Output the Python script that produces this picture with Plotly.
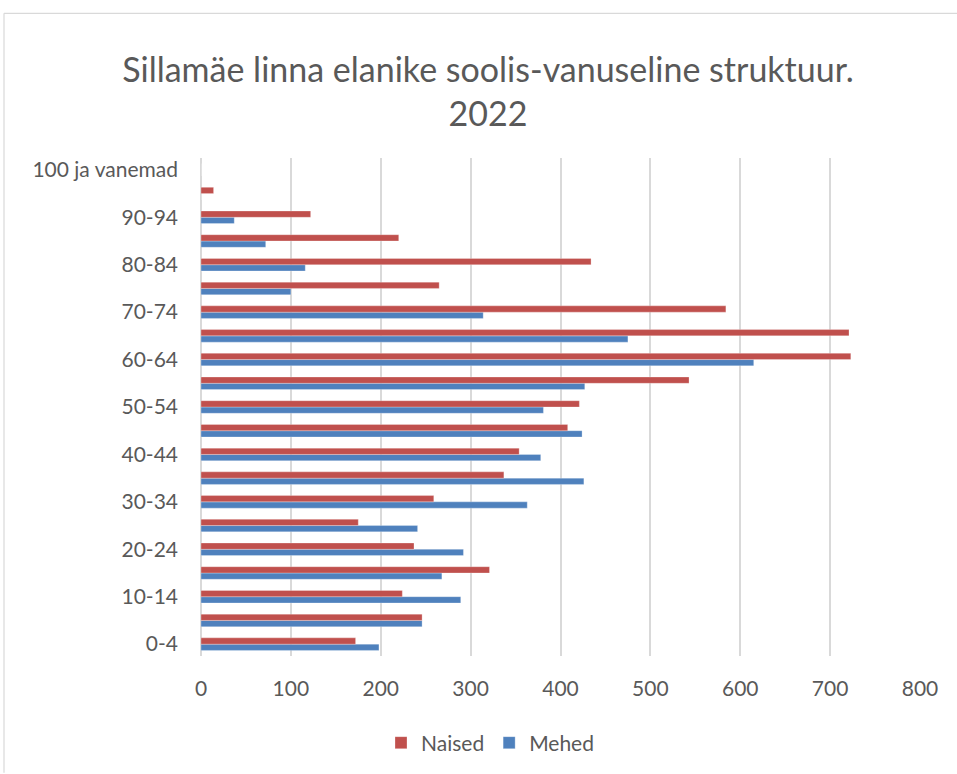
import plotly.graph_objects as go

categories = ["0-4", "5-9", "10-14", "15-19", "20-24", "25-29", "30-34", "35-39",
              "40-44", "45-49", "50-54", "55-59", "60-64", "65-69", "70-74",
              "75-79", "80-84", "85-89", "90-94", "95-99", "100 ja vanemad"]
naised = [172, 246, 224, 321, 237, 175, 259, 337, 354, 408, 421, 543, 723, 721,
          584, 265, 434, 220, 122, 14, 0]
mehed = [198, 246, 289, 268, 292, 241, 363, 426, 378, 424, 381, 427, 615, 475,
         314, 100, 116, 72, 37, 0, 0]
x_ticks = [0, 100, 200, 300, 400, 500, 600, 700, 800]
title_text = "Sillamäe linna elanike soolis-vanuseline struktuur.<br>2022"

RED = "#C0504D"
BLUE = "#4F81BD"
TXT = "#595959"
FONT = "Lato, 'Open Sans', sans-serif"

fig = go.Figure()
fig.add_trace(go.Bar(y=categories, x=mehed, name="Mehed", orientation="h",
                     marker=dict(color=BLUE, line=dict(color="rgba(255,255,255,0.35)", width=0.8))))
fig.add_trace(go.Bar(y=categories, x=naised, name="Naised", orientation="h",
                     marker=dict(color=RED, line=dict(color="rgba(255,255,255,0.35)", width=0.8))))

L, R, T, B = 201, 37, 158, 117
W, H = 957, 774
pw, ph = W - L - R, H - T - B

def px_x(p):
    return (p - L) / pw

def px_y(p):
    return (H - B - p) / ph

fig.update_layout(
    width=W, height=H,
    margin=dict(l=L, r=R, t=T, b=B),
    paper_bgcolor="white", plot_bgcolor="white",
    barmode="group", bargap=0.47, bargroupgap=0,
    title=dict(text=title_text, x=488 / W, xanchor="center", y=1 - 82 / H, yanchor="middle",
               font=dict(family=FONT, size=34, color=TXT)),
    font=dict(family=FONT, color=TXT, size=20),
    legend=dict(orientation="h", traceorder="reversed", x=px_x(490), xanchor="center",
                y=px_y(743), yanchor="middle", font=dict(size=21, color=TXT),
                itemwidth=30, tracegroupgap=0),
    xaxis=dict(range=[0, 800], tickvals=x_ticks, showgrid=True, gridcolor="#d9d9d9",
               gridwidth=1.5, zeroline=True, zerolinecolor="#d9d9d9", zerolinewidth=1.5,
               showline=False, ticks="", ticklabelstandoff=18,
               tickfont=dict(size=21, color=TXT), fixedrange=True),
    yaxis=dict(type="category", categoryorder="array", categoryarray=categories,
               tickvals=categories[::2], ticktext=categories[::2],
               showgrid=False, zeroline=False, showline=False, ticks="",
               ticklabelstandoff=22, tickfont=dict(size=21, color=TXT),
               range=[-0.5, len(categories) - 0.5], fixedrange=True),
    shapes=[
        dict(type="line", xref="paper", yref="paper", x0=px_x(4), x1=px_x(957),
             y0=px_y(13), y1=px_y(13), line=dict(color="#d9d9d9", width=1.2), layer="below"),
        dict(type="line", xref="paper", yref="paper", x0=px_x(4), x1=px_x(4),
             y0=px_y(13), y1=px_y(774), line=dict(color="#d9d9d9", width=1.2), layer="below"),
    ],
)

fig.write_html("out.html", config={"displayModeBar": False},
               post_script="document.body.style.margin='0';document.body.style.overflow='hidden';")
